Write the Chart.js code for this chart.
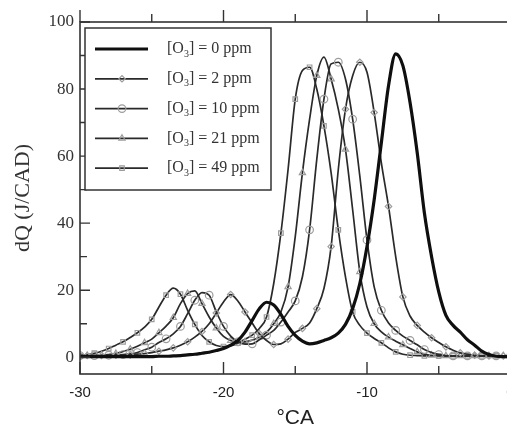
<!DOCTYPE html>
<html>
<head>
<meta charset="utf-8">
<script src="https://cdn.jsdelivr.net/npm/chart.js@4.4.1/dist/chart.umd.min.js"></script>
<style>
  html, body { margin: 0; padding: 0; background: #fff; overflow: hidden; }
  #wrap { width: 520px; height: 429px; }
</style>
</head>
<body>
<div id="wrap"><canvas id="chart" width="520" height="429"></canvas></div>
<script>
// crank angle (degrees), sampled every 0.5 CA
const crankAngle = [
  -30, -29.5, -29, -28.5, -28, -27.5, -27, -26.5, -26, -25.5,
  -25, -24.5, -24, -23.5, -23, -22.5, -22, -21.5, -21, -20.5,
  -20, -19.5, -19, -18.5, -18, -17.5, -17, -16.5, -16, -15.5,
  -15, -14.5, -14, -13.5, -13, -12.5, -12, -11.5, -11, -10.5,
  -10, -9.5, -9, -8.5, -8, -7.5, -7, -6.5, -6, -5.5,
  -5, -4.5, -4, -3.5, -3, -2.5, -2, -1.5, -1, -0.5, 0
];

// heat release rate dQ (J/CAD)
const ppm0 = [
  0.2, 0.2, 0.2, 0.2, 0.2, 0.2, 0.2, 0.2, 0.2, 0.2,
  0.2, 0.3, 0.3, 0.4, 0.5, 0.7, 0.9, 1.2, 1.5, 2.0,
  2.6, 3.6, 5.0, 7.5, 11.0, 14.5, 16.4, 15.6, 12.8, 9.2,
  6.5, 4.8, 4.0, 4.3, 5.0, 5.8, 7.2, 9.8, 14.5, 22,
  33, 47, 64, 81, 90.5, 87, 76, 61, 43, 30,
  19.5, 12.5, 9.5, 7.5, 5.2, 3.6, 1.8, 0.8, 0.3, 0.2, 0.2
];
const ppm2 = [
  0.5, 0.5, 0.5, 0.5, 0.5, 0.6, 0.6, 0.7, 0.9, 1.1,
  1.4, 1.8, 2.2, 2.8, 3.6, 4.6, 6.0, 7.7, 10.0, 13.2,
  16.5, 18.7, 16.8, 13.5, 10.2, 7.0, 5.0, 3.8, 4.0, 5.4,
  7.4, 8.6, 10.2, 14.5, 20.5, 33, 56, 74, 84, 88,
  85, 73, 58, 45, 30, 18, 12.3, 9.5, 7.5, 5.8,
  4.4, 3.1, 2.1, 1.3, 0.9, 0.6, 0.5, 0.4, 0.4, 0.4, 0.4
];
const ppm10 = [
  0.5, 0.5, 0.5, 0.5, 0.6, 0.7, 0.8, 1.0, 1.4, 2.2,
  3.0, 4.4, 5.5, 7.0, 9.2, 13.0, 17.0, 19.3, 18.5, 13.5,
  9.2, 6.3, 4.6, 3.9, 4.0, 5.2, 6.6, 8.0, 10.5, 13.5,
  16.8, 24, 38, 59, 77, 87.5, 88, 83, 71, 54,
  35, 21, 14, 10.2, 8.0, 6.3, 5.0, 3.7, 2.3, 1.4,
  0.8, 0.5, 0.4, 0.4, 0.4, 0.4, 0.4, 0.4, 0.4, 0.4, 0.4
];
const ppm21 = [
  0.5, 0.5, 0.5, 0.6, 0.8, 1.1, 1.7, 2.4, 3.3, 4.3,
  5.4, 7.3, 9.3, 11.8, 16.0, 19.0, 19.8, 16.0, 12.0, 8.7,
  6.2, 5.0, 4.5, 4.6, 5.1, 6.0, 7.4, 10.0, 13.5, 21,
  36, 55, 71, 84, 89.5, 83, 74, 62, 44, 25.5,
  15, 10, 7.6, 6.0, 4.8, 3.7, 2.6, 1.6, 0.9, 0.6,
  0.5, 0.4, 0.4, 0.4, 0.4, 0.4, 0.4, 0.4, 0.4, 0.4, 0.4
];
const ppm49 = [
  0.5, 0.7, 1.2, 1.8, 2.6, 3.6, 4.6, 5.9, 7.3, 9.0,
  11.3, 15.0, 18.5, 20.6, 18.8, 14.0, 9.8, 6.5, 4.6, 3.5,
  3.2, 3.4, 4.2, 5.4, 6.6, 8.6, 12.0, 22, 37, 56,
  77, 85.5, 86.5, 80, 69, 55, 38, 24, 13.5, 9.5,
  7.2, 5.6, 4.3, 2.8, 1.6, 0.9, 0.6, 0.5, 0.4, 0.4,
  0.4, 0.4, 0.4, 0.4, 0.4, 0.4, 0.4, 0.4, 0.4, 0.4, 0.4
];

const seriesLabels = ['[O₃] = 0 ppm', '[O₃] = 2 ppm', '[O₃] = 10 ppm', '[O₃] = 21 ppm', '[O₃] = 49 ppm'];
const xTicks = [-30, -20, -10, 0];
const yTicks = [0, 20, 40, 60, 80, 100];
const xTickMarks = [-30, -25, -20, -15, -10, -5, 0];
const yTickMarks = [0, 10, 20, 30, 40, 50, 60, 70, 80, 90, 100];

const SERIF = '"Liberation Serif", "Times New Roman", serif';
const SANS = '"Liberation Sans", Arial, sans-serif';
const MARK = '#9c9c9c';

function pts(values) {
  return crankAngle.map((x, i) => ({ x: x, y: values[i] }));
}

// markers only on every other sample, like the sparse symbols of the figure
function markerEvery(r, phase) {
  return (c) => (c.index % 2 === phase ? r : 0);
}

function thinSet(label, values, style, r, phase) {
  return {
    label: label,
    data: pts(values),
    borderColor: '#2a2a2a',
    borderWidth: 1.7,
    pointStyle: style,
    markerSize: r,
    pointRadius: markerEvery(r, phase),
    pointHoverRadius: 0,
    pointBorderColor: MARK,
    pointBorderWidth: 1.2,
    pointBackgroundColor: 'rgba(255,255,255,0)',
    cubicInterpolationMode: 'monotone',
    fill: false
  };
}

// frame with inward ticks at bottom/left and outward ticks on top
const framePlugin = {
  id: 'frame',
  afterDatasetsDraw(chart) {
    const { ctx, chartArea: a, scales: { x, y } } = chart;
    ctx.save();
    ctx.strokeStyle = '#333';
    ctx.lineWidth = 1.6;
    ctx.strokeRect(a.left, a.top, a.right - a.left, a.bottom - a.top);
    ctx.lineWidth = 1.4;
    ctx.beginPath();
    for (const v of xTickMarks) {
      const px = x.getPixelForValue(v);
      const len = v % 10 === 0 ? 12 : 8;
      ctx.moveTo(px, a.bottom);
      ctx.lineTo(px, a.bottom - len);
      ctx.moveTo(px, a.top);
      ctx.lineTo(px, a.top - len);
    }
    for (const v of yTickMarks) {
      const py = y.getPixelForValue(v);
      ctx.moveTo(a.left, py);
      ctx.lineTo(a.left + (v % 20 === 0 ? 10 : 7), py);
    }
    ctx.stroke();
    ctx.restore();
  }
};

// boxed legend in the upper left of the plot
const legendPlugin = {
  id: 'boxLegend',
  afterDatasetsDraw(chart) {
    const { ctx, chartArea: a } = chart;
    const left = a.left + 5, top = a.top + 6, w = 186, h = 162;
    ctx.save();
    ctx.fillStyle = '#fff';
    ctx.fillRect(left, top, w, h);
    ctx.strokeStyle = '#333';
    ctx.lineWidth = 1.5;
    ctx.strokeRect(left, top, w, h);

    chart.data.datasets.forEach((ds, i) => {
      const yy = top + 21 + i * 29.8;
      ctx.strokeStyle = ds.borderColor;
      ctx.lineWidth = ds.borderWidth;
      ctx.beginPath();
      ctx.moveTo(left + 10, yy);
      ctx.lineTo(left + 63, yy);
      ctx.stroke();
      if (ds.markerSize) {
        ctx.strokeStyle = ds.pointBorderColor;
        ctx.fillStyle = 'rgba(255,255,255,0)';
        ctx.lineWidth = ds.pointBorderWidth;
        Chart.helpers.drawPoint(ctx, {
          pointStyle: ds.pointStyle,
          radius: ds.markerSize,
          rotation: 0,
          borderWidth: ds.pointBorderWidth
        }, left + 37, yy);
      }
      // label with subscript 3
      const parts = ds.label.split('₃');
      ctx.fillStyle = '#333';
      ctx.textBaseline = 'middle';
      ctx.font = '16px ' + SERIF;
      let tx = left + 82;
      ctx.fillText(parts[0], tx, yy);
      tx += ctx.measureText(parts[0]).width;
      if (parts.length > 1) {
        ctx.font = '10px ' + SERIF;
        ctx.fillText('3', tx, yy + 5);
        tx += ctx.measureText('3').width;
        ctx.font = '16px ' + SERIF;
        ctx.fillText(parts[1], tx, yy);
      }
    });
    ctx.restore();
  }
};

const datasets = [
  {
    label: seriesLabels[0],
    data: pts(ppm0),
    borderColor: '#0f0f0f',
    borderWidth: 3.2,
    pointRadius: 0,
    pointHoverRadius: 0,
    cubicInterpolationMode: 'monotone',
    fill: false
  },
  thinSet(seriesLabels[1], ppm2, 'rectRot', 3.2, 1),
  thinSet(seriesLabels[2], ppm10, 'circle', 3.8, 0),
  thinSet(seriesLabels[3], ppm21, 'triangle', 3.6, 1),
  thinSet(seriesLabels[4], ppm49, 'rect', 3.2, 0)
];

new Chart(document.getElementById('chart'), {
  type: 'line',
  data: { datasets: datasets },
  options: {
    responsive: false,
    animation: false,
    devicePixelRatio: 1,
    layout: { padding: { left: 0, right: 9.5, top: 22, bottom: 0 } },
    plugins: {
      legend: { display: false },
      tooltip: { enabled: false }
    },
    scales: {
      x: {
        type: 'linear',
        min: -30,
        max: 0,
        afterBuildTicks: (s) => { s.ticks = xTicks.map(v => ({ value: v })); },
        afterFit: (s) => { s.height = 55; s.paddingLeft = 0; s.paddingRight = 0; },
        grid: { display: false, drawTicks: false },
        border: { display: false },
        ticks: { font: { family: SANS, size: 15 }, color: '#222', padding: 10, maxRotation: 0 },
        title: {
          display: true,
          text: '°CA',
          font: { family: SANS, size: 21, lineHeight: 1 },
          color: '#222',
          padding: 0
        }
      },
      y: {
        type: 'linear',
        min: -5,
        max: 100,
        afterBuildTicks: (s) => { s.ticks = yTicks.map(v => ({ value: v })); },
        afterFit: (s) => { s.width = 80; s.paddingTop = 0; s.paddingBottom = 0; },
        grid: { display: false, drawTicks: false },
        border: { display: false },
        ticks: { font: { family: SERIF, size: 17 }, color: '#333', padding: 6 },
        title: {
          display: true,
          text: 'dQ (J/CAD)',
          font: { family: SERIF, size: 22 },
          color: '#333',
          padding: { top: 10, bottom: 0 }
        }
      }
    }
  },
  plugins: [framePlugin, legendPlugin]
});
</script>
</body>
</html>
